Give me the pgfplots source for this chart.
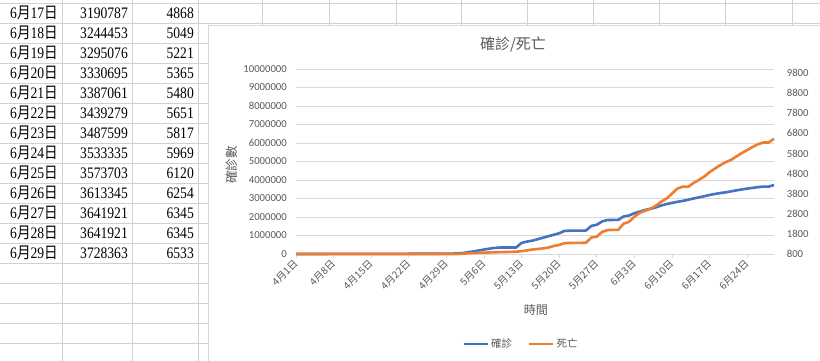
\documentclass[border=0pt]{standalone}
\usepackage{fontspec}
\setmainfont{Carlito}
\newfontfamily\cjk{Noto Sans CJK TC}
\newfontfamily\tblfont[FakeStretch=0.85]{Liberation Serif}
\newfontfamily\tblcjk[FakeStretch=0.85]{Noto Sans CJK TC}
\usepackage{pgfplots}
\usepackage{pgfplotstable}
\pgfplotsset{compat=1.18}
\definecolor{cblue}{HTML}{4472C4}
\definecolor{corange}{HTML}{ED7D31}
\definecolor{txtgray}{HTML}{595959}
\definecolor{gridc}{HTML}{D9D9D9}
\definecolor{sheetc}{HTML}{D0D0D0}

\pgfplotstableread{
i cases deaths
0 900 800
1 1100 800
2 1300 800
3 1600 800
4 1900 800
5 2200 800
6 2500 800
7 2900 800
8 3300 800
9 3700 800
10 4100 800
11 4600 800
12 5100 800
13 5600 800
14 6200 800
15 6800 800
16 7400 800
17 8000 800
18 8700 800
19 9400 800
20 10100 800
21 10900 800
22 11700 800
23 12500 800
24 13400 800
25 14300 800
26 15200 800
27 16200 800
28 17200 800
29 20000 800
30 30000 800
31 50000 815
32 90000 830
33 140000 845
34 190000 858
35 240000 868
36 290000 876
37 330000 885
38 350000 893
39 350000 900
40 350000 906
41 352000 915
42 600000 940
43 670000 980
44 720000 1020
45 800000 1050
46 880000 1080
47 960000 1120
48 1040000 1200
49 1120000 1250
50 1250000 1340
51 1260000 1350
52 1260000 1350
53 1260000 1355
54 1270000 1360
55 1520000 1620
56 1580000 1660
57 1760000 1900
58 1840000 1990
59 1840000 2000
60 1845000 2000
61 2030000 2310
62 2080000 2400
63 2200000 2650
64 2290000 2850
65 2380000 2950
66 2440000 3050
67 2520000 3200
68 2620000 3400
69 2700000 3560
70 2760000 3800
71 2820000 4050
72 2870000 4150
73 2930000 4140
74 3000000 4330
75 3060000 4480
76 3120000 4650
77 3190787 4868
78 3244453 5049
79 3295076 5221
80 3330695 5365
81 3387061 5480
82 3439279 5651
83 3487599 5817
84 3533335 5969
85 3573703 6120
86 3613345 6254
87 3641921 6345
88 3641921 6345
89 3728363 6533
}\data

\begin{document}
\begin{tikzpicture}
\begin{scope}[x=1pt,y=1pt]
\useasboundingbox (0,0) rectangle (820,361);
\fill[white] (0,0) rectangle (820,361);
% spreadsheet grid
\foreach \k in {0,...,17} \draw[sheetc, line width=0.8pt] (0,{358-20*\k}) -- (208,{358-20*\k});
\foreach \k in {0,1} \draw[sheetc, line width=0.8pt] (208,{358-20*\k}) -- (820,{358-20*\k});
\foreach \x in {62,132,198} \draw[sheetc, line width=0.8pt] (\x,0) -- (\x,361);
\foreach \x in {262.5,329.5,396,461,527,593,659.5,725.5,792} \draw[sheetc, line width=0.8pt] (\x,336) -- (\x,361);
% table
\foreach \dd/\cc/\mm [count=\k from 0] in {17/3190787/4868,18/3244453/5049,19/3295076/5221,20/3330695/5365,21/3387061/5480,22/3439279/5651,23/3487599/5817,24/3533335/5969,25/3573703/6120,26/3613345/6254,27/3641921/6345,28/3641921/6345,29/3728363/6533}{
  \node[anchor=base east, inner sep=0pt, font=\tblfont\fontsize{16}{18}\selectfont] at (58,{342.2-20*\k}) {6{\tblcjk 月}\dd{\tblcjk 日}};
  \node[anchor=base east, inner sep=0pt, font=\tblfont\fontsize{16}{18}\selectfont] at (128,{342.2-20*\k}) {\cc};
  \node[anchor=base east, inner sep=0pt, font=\tblfont\fontsize{16}{18}\selectfont] at (194,{342.2-20*\k}) {\mm};
}
% chart area
\filldraw[fill=white, draw=gridc, line width=0.8pt] (208,-5) rectangle (830,336);
\node[font=\cjk\fontsize{15}{16}\selectfont, text=txtgray] at (513,316) {確診/死亡};
\end{scope}

\begin{axis}[
  at={(296pt,107pt)}, anchor=south west,
  width=478pt, height=185pt, scale only axis,
  xmin=0, xmax=89, ymin=0, ymax=10000000,
  xtick={0,7,14,21,28,35,42,49,56,63,70,77,84},
  xticklabels={4月1日,4月8日,4月15日,4月22日,4月29日,5月6日,5月13日,5月20日,5月27日,6月3日,6月10日,6月17日,6月24日},
  ytick={0,1000000,2000000,3000000,4000000,5000000,6000000,7000000,8000000,9000000,10000000},
  scaled y ticks=false,
  /pgf/number format/assume math mode=true,
  yticklabel style={/pgf/number format/fixed, /pgf/number format/1000 sep={}, font=\fontsize{10.7}{12}\selectfont, text=txtgray, inner sep=0pt, xshift=-5pt},
  xticklabel style={rotate=45, anchor=east, inner sep=0pt, font=\cjk\fontsize{10}{12}\selectfont, text=txtgray},
  xticklabel shift=4pt,
  ymajorgrids, grid style={gridc, line width=0.8pt},
  axis x line*=bottom, axis y line*=left,
  x axis line style={gridc, line width=0.8pt, -},
  y axis line style={draw=none},
  tick align=outside, major tick length=4pt,
  xtick style={gridc, line width=0.8pt},
  ytick style={draw=none},
  ylabel={確診數},
  ylabel style={font=\cjk\fontsize{12.5}{13}\selectfont, text=txtgray, at={(axis description cs:-0.134,0.481)}, anchor=center},
  xlabel={時間},
  xlabel style={font=\cjk\fontsize{12}{13}\selectfont, text=txtgray, at={(axis description cs:0.502,-0.303)}, anchor=center},
  clip=false,
]
\addplot[cblue, line width=2.6pt, line join=round] table[x=i, y=cases] {\data};
\end{axis}

\begin{axis}[
  at={(296pt,107pt)}, anchor=south west,
  width=478pt, height=185pt, scale only axis,
  xmin=0, xmax=89, ymin=800, ymax=10000,
  axis x line=none, xtick=\empty,
  axis y line*=right,
  y axis line style={draw=none},
  ytick={800,1800,2800,3800,4800,5800,6800,7800,8800,9800},
  scaled y ticks=false,
  ytick style={draw=none},
  /pgf/number format/assume math mode=true,
  yticklabel style={/pgf/number format/fixed, /pgf/number format/1000 sep={}, font=\fontsize{10.7}{12}\selectfont, text=txtgray, inner sep=0pt, anchor=west, xshift=12.7pt},
  clip=false,
  legend columns=2,
  legend style={draw=none, fill=none, at={(axis description cs:0.471,-0.486)}, anchor=center, font=\cjk\fontsize{10.5}{12}\selectfont, text=txtgray, /tikz/every even column/.append style={column sep=14pt}},
  legend image code/.code={\draw[#1] (0pt,0pt) -- (24pt,0pt);},
]
\addlegendimage{cblue, line width=2.6pt}
\addlegendentry{確診}
\addplot[corange, line width=2.6pt, line join=round] table[x=i, y=deaths] {\data};
\addlegendentry{死亡}
\end{axis}
\end{tikzpicture}
\end{document}
